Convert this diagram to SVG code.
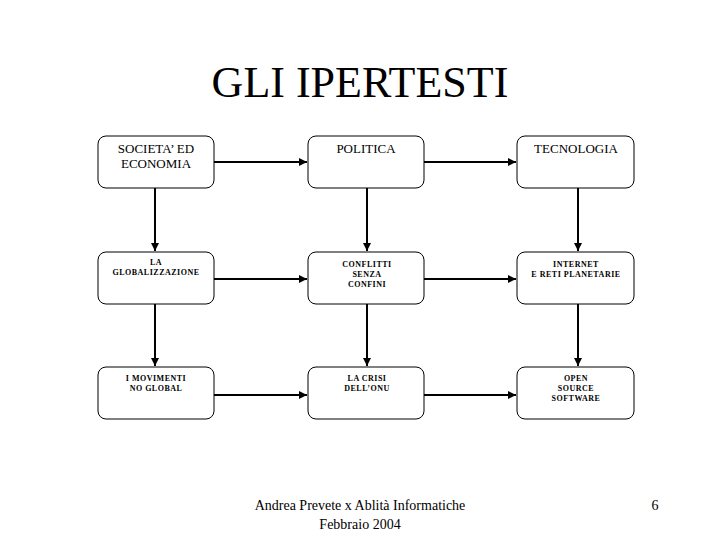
<svg xmlns="http://www.w3.org/2000/svg" width="720" height="540" viewBox="0 0 720 540">
<style>
.box{fill:#fff;stroke:#000;stroke-width:1}
.t{font-family:"Liberation Serif",serif;font-size:13px;text-anchor:middle;fill:#000}
.s{font-family:"Liberation Serif",serif;font-size:8px;font-weight:bold;text-anchor:middle;fill:#000;letter-spacing:0.5px}
.c{stroke:#000;stroke-width:2;fill:none;marker-end:url(#ah)}
</style>
<defs>
<marker id="ah" viewBox="0 0 10 10" refX="10" refY="5" markerWidth="4" markerHeight="4" orient="auto" markerUnits="strokeWidth">
<path d="M0,0 L10,5 L0,10 z" fill="#000"/>
</marker>
</defs>
<rect width="720" height="540" fill="#fff"/>
<text x="360" y="97" font-family="Liberation Serif, serif" font-size="44" text-anchor="middle">GLI IPERTESTI</text>
<g id="connectors">
<line class="c" x1="214" y1="162" x2="307" y2="162"/>
<line class="c" x1="424" y1="162" x2="516" y2="162"/>
<line class="c" x1="214" y1="279" x2="307" y2="279"/>
<line class="c" x1="424" y1="279" x2="516" y2="279"/>
<line class="c" x1="214" y1="395" x2="307" y2="395"/>
<line class="c" x1="424" y1="395" x2="516" y2="395"/>
<line class="c" x1="155" y1="188" x2="155" y2="251"/>
<line class="c" x1="367" y1="188" x2="367" y2="251"/>
<line class="c" x1="578" y1="188" x2="578" y2="251"/>
<line class="c" x1="155" y1="304" x2="155" y2="366"/>
<line class="c" x1="367" y1="304" x2="367" y2="366"/>
<line class="c" x1="578" y1="304" x2="578" y2="366"/>
</g>
<g id="n1"><rect class="box" x="98" y="136" width="116" height="52" rx="8"/>
<text class="t" x="156" y="153">SOCIETA’ ED</text><text class="t" x="156" y="168">ECONOMIA</text></g>
<g id="n2"><rect class="box" x="308" y="136" width="116" height="52" rx="8"/>
<text class="t" x="366" y="153">POLITICA</text></g>
<g id="n3"><rect class="box" x="517" y="136" width="117" height="52" rx="8"/>
<text class="t" x="576" y="153">TECNOLOGIA</text></g>
<g id="n4"><rect class="box" x="98" y="252" width="116" height="52" rx="8"/>
<text class="s" x="156" y="265">LA</text><text class="s" x="156" y="275">GLOBALIZZAZIONE</text></g>
<g id="n5"><rect class="box" x="308" y="252" width="116" height="52" rx="8"/>
<text class="s" x="367" y="267">CONFLITTI</text><text class="s" x="367" y="277">SENZA</text><text class="s" x="367" y="287">CONFINI</text></g>
<g id="n6"><rect class="box" x="517" y="252" width="117" height="52" rx="8"/>
<text class="s" x="576" y="267">INTERNET</text><text class="s" x="576" y="277">E RETI PLANETARIE</text></g>
<g id="n7"><rect class="box" x="98" y="367" width="116" height="52" rx="8"/>
<text class="s" x="156" y="381">I MOVIMENTI</text><text class="s" x="156" y="391">NO GLOBAL</text></g>
<g id="n8"><rect class="box" x="308" y="367" width="116" height="52" rx="8"/>
<text class="s" x="367" y="381">LA CRISI</text><text class="s" x="367" y="391">DELL’ONU</text></g>
<g id="n9"><rect class="box" x="517" y="367" width="117" height="52" rx="8"/>
<text class="s" x="576" y="381">OPEN</text><text class="s" x="576" y="391">SOURCE</text><text class="s" x="576" y="401">SOFTWARE</text></g>
<text x="360" y="510" font-family="Liberation Serif, serif" font-size="14" text-anchor="middle">Andrea Prevete x Ablità Informatiche</text>
<text x="360" y="529" font-family="Liberation Serif, serif" font-size="14" text-anchor="middle">Febbraio 2004</text>
<text x="655" y="510" font-family="Liberation Serif, serif" font-size="14" text-anchor="middle">6</text>
</svg>
